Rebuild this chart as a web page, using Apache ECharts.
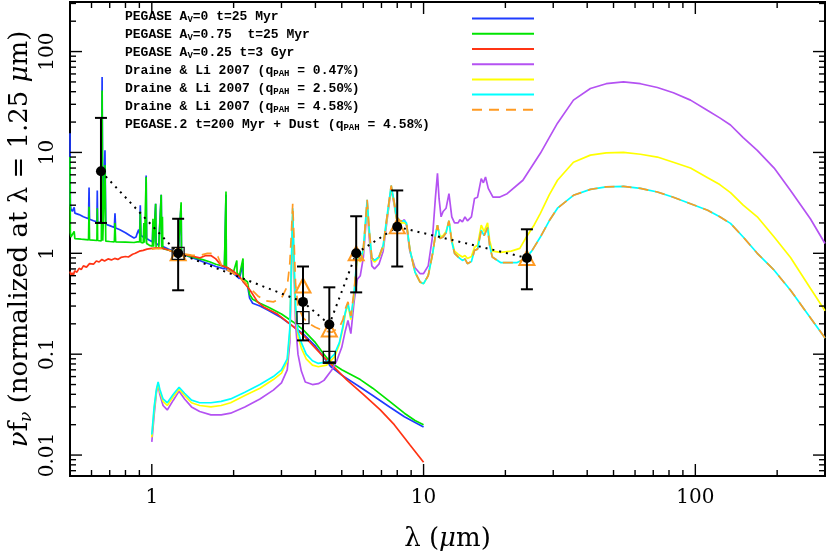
<!DOCTYPE html>
<html><head><meta charset="utf-8">
<script src="https://cdn.jsdelivr.net/npm/echarts@6/dist/echarts.min.js"></script>
<style>html,body{margin:0;padding:0;background:#fff}#c{width:830px;height:558px}</style>
</head><body><div id="c"></div>
<script>
// ---------------- data (wavelength in micron, nu f_nu normalized) ----------------
const pegAv0 = [[0.500,15.5],[0.5015,3.1],[0.504,2.75],[0.51,2.6],[0.515,2.55],[0.518,2.85],[0.521,2.5],[0.54,2.42],[0.56,2.3],[0.585,2.2],[0.5876,4.5],[0.590,2.18],[0.61,2.1],[0.628,2.05],[0.630,4.2],[0.632,2.04],[0.652,2.0],[0.6563,56],[0.660,1.98],[0.668,1.96],[0.6725,10.5],[0.677,1.94],[0.70,1.88],[0.728,1.8],[0.732,2.5],[0.736,1.78],[0.76,1.72],[0.80,1.6],[0.83,1.5],[0.86,1.42],[0.875,1.45],[0.885,1.6],[0.895,1.72],[0.902,1.55],[0.907,3.0],[0.912,1.5],[0.93,1.45],[0.95,1.42],[0.9532,5.9],[0.957,1.4],[0.98,1.35],[1.005,1.3],[1.01,2.0],[1.015,1.28],[1.03,1.26],[1.033,3.1],[1.037,1.25],[1.06,1.2],[1.083,3.8],[1.088,1.18],[1.1,1.16],[1.15,1.1],[1.2,1.05],[1.25,1.0],[1.282,3.0],[1.286,0.98],[1.35,0.94],[1.45,0.88],[1.55,0.82],[1.64,0.78],[1.72,0.74],[1.85,0.7],[1.875,3.8],[1.88,0.69],[2.0,0.63],[2.1,0.56],[2.166,0.8],[2.17,0.52],[2.25,0.48],[2.29,0.36],[2.35,0.32],[2.5,0.3],[2.7,0.27],[3.0,0.23],[3.3,0.19],[3.6,0.16],[4.0,0.12],[4.27,0.095],[4.54,0.076],[5.0,0.062],[5.85,0.047],[6.5,0.039],[7.5,0.030],[8.5,0.024],[10.0,0.019]];
const pegAv075 = [[0.500,9.0],[0.5015,1.6],[0.504,1.45],[0.51,1.4],[0.518,1.65],[0.521,1.4],[0.55,1.38],[0.585,1.36],[0.5876,2.9],[0.590,1.36],[0.628,1.34],[0.630,2.8],[0.632,1.34],[0.652,1.33],[0.6563,41],[0.660,1.33],[0.668,1.32],[0.6725,7.5],[0.677,1.32],[0.70,1.31],[0.728,1.3],[0.732,2.0],[0.736,1.3],[0.80,1.29],[0.86,1.28],[0.885,1.3],[0.895,1.35],[0.902,1.3],[0.907,2.6],[0.912,1.28],[0.93,1.27],[0.935,2.0],[0.94,1.27],[0.95,1.26],[0.9532,5.7],[0.957,1.25],[0.98,1.2],[1.005,1.18],[1.01,2.2],[1.015,1.16],[1.03,1.15],[1.033,3.1],[1.037,1.14],[1.06,1.12],[1.083,3.8],[1.088,1.12],[1.094,2.3],[1.098,1.11],[1.15,1.08],[1.2,1.04],[1.25,1.0],[1.282,3.2],[1.286,0.99],[1.35,0.95],[1.45,0.9],[1.55,0.86],[1.64,0.82],[1.72,0.78],[1.85,0.74],[1.875,4.1],[1.88,0.73],[2.0,0.66],[2.055,0.85],[2.06,0.64],[2.1,0.6],[2.166,0.89],[2.17,0.56],[2.25,0.52],[2.29,0.39],[2.35,0.35],[2.5,0.32],[2.7,0.29],[3.0,0.25],[3.3,0.21],[3.6,0.175],[4.0,0.13],[4.27,0.102],[4.54,0.083],[5.0,0.07],[5.85,0.056],[6.5,0.046],[7.5,0.034],[8.5,0.026],[9.3,0.022],[10.0,0.02]];
const pegOld = [[0.500,0.66],[0.505,0.6],[0.51,0.64],[0.515,0.61],[0.52,0.67],[0.53,0.65],[0.54,0.71],[0.55,0.69],[0.56,0.75],[0.575,0.73],[0.59,0.79],[0.6,0.81],[0.61,0.78],[0.625,0.84],[0.64,0.82],[0.655,0.87],[0.67,0.84],[0.69,0.88],[0.71,0.86],[0.73,0.89],[0.75,0.87],[0.77,0.91],[0.8,0.93],[0.82,0.92],[0.85,0.98],[0.87,1.0],[0.9,1.05],[0.93,1.07],[0.96,1.1],[1.0,1.12],[1.05,1.13],[1.1,1.12],[1.15,1.08],[1.2,1.03],[1.25,1.0],[1.3,0.98],[1.4,0.94],[1.5,0.9],[1.58,0.95],[1.65,0.95],[1.72,0.88],[1.8,0.76],[1.9,0.72],[2.0,0.66],[2.1,0.59],[2.2,0.5],[2.3,0.43],[2.45,0.33],[2.6,0.29],[2.9,0.25],[3.3,0.19],[3.6,0.155],[4.27,0.095],[4.6,0.078],[5.24,0.055],[6.0,0.04],[6.93,0.028],[7.8,0.02],[8.93,0.0125],[10.0,0.0085]];
const draine047 = [[1.0,0.0135],[1.02,0.025],[1.04,0.042],[1.055,0.05],[1.07,0.04],[1.1,0.031],[1.14,0.028],[1.2,0.035],[1.26,0.043],[1.32,0.036],[1.4,0.03],[1.5,0.027],[1.65,0.025],[1.8,0.025],[1.95,0.026],[2.2,0.03],[2.5,0.036],[2.8,0.044],[3.0,0.052],[3.15,0.07],[3.22,0.13],[3.27,0.8],[3.3,2.3],[3.33,0.8],[3.38,0.2],[3.45,0.1],[3.55,0.068],[3.67,0.053],[3.9,0.05],[4.1,0.051],[4.3,0.055],[4.6,0.07],[4.8,0.087],[5.0,0.117],[5.15,0.17],[5.27,0.216],[5.4,0.16],[5.55,0.33],[5.7,0.55],[5.85,0.6],[6.0,0.9],[6.1,1.6],[6.2,3.0],[6.3,1.5],[6.45,0.75],[6.6,0.7],[6.85,0.78],[7.1,1.05],[7.35,2.2],[7.6,4.4],[7.8,3.0],[7.95,2.2],[8.2,2.0],[8.5,2.15],[8.65,1.9],[8.9,1.05],[9.3,0.72],[9.7,0.63],[10.0,0.63],[10.4,0.75],[10.8,1.5],[11.05,3.5],[11.25,6.2],[11.4,3.5],[11.6,2.3],[11.8,2.6],[12.1,2.8],[12.4,3.9],[12.7,2.3],[13.0,2.0],[13.4,2.0],[13.6,2.15],[13.9,2.05],[14.2,2.3],[14.5,2.1],[15.0,2.3],[15.4,3.5],[15.8,3.6],[16.3,5.5],[16.6,5.0],[16.9,5.7],[17.3,4.4],[18.0,3.6],[19.0,3.6],[20.3,3.9],[23.2,5.3],[26.9,9.8],[29,14],[31.1,19.5],[35.6,33],[41.1,43],[47,48],[54.4,50],[62.8,48],[72.5,44],[83,39],[96,33],[111,26],[123,22],[134.7,18.7],[150,14],[169,10.5],[195,7.0],[224,4.2],[265,2.2],[300,1.25]];
const draine250 = [[1.0,0.015],[1.02,0.028],[1.04,0.043],[1.055,0.051],[1.07,0.043],[1.1,0.034],[1.14,0.031],[1.2,0.038],[1.26,0.045],[1.32,0.039],[1.4,0.033],[1.5,0.031],[1.65,0.03],[1.8,0.031],[1.95,0.033],[2.2,0.039],[2.5,0.046],[2.8,0.056],[3.0,0.065],[3.15,0.085],[3.22,0.16],[3.27,0.9],[3.3,2.6],[3.33,0.9],[3.38,0.27],[3.45,0.15],[3.55,0.115],[3.7,0.09],[3.9,0.078],[4.1,0.075],[4.4,0.078],[4.7,0.094],[4.9,0.125],[5.05,0.18],[5.15,0.25],[5.27,0.31],[5.4,0.22],[5.55,0.38],[5.7,0.95],[5.85,0.82],[6.0,1.05],[6.1,1.8],[6.2,3.2],[6.3,1.7],[6.45,0.87],[6.6,0.82],[6.85,0.9],[7.1,1.15],[7.35,2.3],[7.6,4.5],[7.8,3.1],[7.95,2.2],[8.2,2.0],[8.5,2.0],[8.65,1.95],[8.9,1.1],[9.3,0.65],[9.7,0.52],[10.0,0.5],[10.4,0.6],[10.8,1.0],[11.05,1.5],[11.25,1.9],[11.5,1.45],[11.8,1.5],[12.1,1.65],[12.4,2.1],[12.7,1.35],[13.0,1.05],[13.4,0.98],[13.6,1.0],[13.9,0.92],[14.2,0.95],[14.5,0.89],[15.0,0.93],[15.4,1.15],[15.8,1.2],[16.3,1.9],[16.7,1.65],[17.2,2.0],[17.5,1.35],[17.9,1.05],[19.2,1.02],[21.0,1.05],[22.6,1.12],[23.7,1.4],[25.5,1.9],[26.9,2.49],[29,3.8],[31.1,5.3],[35.6,8.0],[41.1,9.4],[47,9.9],[54.4,10.0],[62.8,9.6],[72.5,9.0],[83,8.0],[96,7.0],[111,5.6],[123,4.8],[134.7,4.0],[150,3.0],[169,2.3],[195,1.45],[224,0.91],[265,0.45],[300,0.27]];
const draine458 = [[1.0,0.016],[1.02,0.03],[1.04,0.045],[1.055,0.053],[1.07,0.045],[1.1,0.036],[1.14,0.033],[1.2,0.04],[1.26,0.047],[1.32,0.041],[1.4,0.035],[1.5,0.033],[1.65,0.033],[1.8,0.034],[1.95,0.036],[2.2,0.042],[2.5,0.05],[2.8,0.06],[3.0,0.07],[3.15,0.09],[3.22,0.18],[3.27,1.0],[3.3,2.8],[3.33,1.0],[3.38,0.3],[3.45,0.17],[3.55,0.13],[3.7,0.1],[3.9,0.086],[4.1,0.081],[4.4,0.084],[4.7,0.1],[4.9,0.13],[5.05,0.19],[5.15,0.26],[5.27,0.32],[5.4,0.23],[5.55,0.4],[5.7,1.0],[5.85,0.85],[6.0,1.1],[6.1,1.9],[6.2,3.4],[6.3,1.8],[6.45,0.9],[6.6,0.85],[6.85,0.92],[7.1,1.2],[7.35,2.4],[7.6,4.7],[7.8,3.2],[7.95,2.3],[8.2,2.1],[8.5,2.1],[8.65,2.0],[8.9,1.1],[9.3,0.65],[9.7,0.52],[10.0,0.5],[10.4,0.6],[10.8,1.0],[11.05,1.5],[11.25,1.9],[11.5,1.4],[11.8,1.45],[12.1,1.6],[12.4,2.1],[12.7,1.3],[13.0,1.0],[13.4,0.92],[13.6,0.95],[13.9,0.85],[14.2,0.88],[14.5,0.79],[15.0,0.83],[15.4,1.07],[15.8,1.1],[16.3,1.7],[16.7,1.5],[17.2,1.8],[17.5,1.2],[17.9,0.92],[19.2,0.81],[22.1,0.81],[23.7,0.89],[25.0,1.05],[26.9,1.45],[29,2.1],[31.1,2.8],[35.6,3.76],[41.1,4.3],[47,4.55],[54.4,4.6],[62.8,4.4],[72.5,4.05],[83,3.6],[96,3.1],[111,2.67],[123,2.3],[134.7,1.98],[150,1.45],[169,1.0],[195,0.68],[224,0.43],[265,0.23],[300,0.145]];
const pegDustNIR = [[1.0,1.1],[1.05,1.12],[1.1,1.11],[1.2,1.04],[1.25,1.0],[1.3,0.99],[1.4,0.96],[1.5,0.95],[1.6,1.0],[1.68,1.0],[1.75,0.93],[1.82,0.72],[1.9,0.68],[2.0,0.63],[2.1,0.58],[2.2,0.52],[2.3,0.45],[2.45,0.38],[2.6,0.34],[2.8,0.33],[3.0,0.36],[3.15,0.47],[3.22,0.8],[3.27,1.8],[3.3,3.1],[3.33,1.6],[3.38,0.5],[3.45,0.3],[3.6,0.23],[3.8,0.2],[4.0,0.185],[4.3,0.17],[4.6,0.165],[4.9,0.185],[5.05,0.22],[5.15,0.28],[5.27,0.33],[5.4,0.24],[5.55,0.42],[5.7,1.0]];
// photometry
const obsX  = [0.65, 1.25, 3.6, 4.5, 5.65, 8.0, 24.0];
const obsY  = [6.5, 1.0, 0.33, 0.197, 1.0, 1.83, 0.9];
const obsLo = [2.0, 0.43, 0.137, 0.083, 0.41, 0.74, 0.44];
const obsHi = [22, 2.2, 0.74, 0.46, 2.33, 4.2, 1.73];
const sqX = [1.25, 3.6, 4.5];
const sqY = [1.0, 0.23, 0.093];
const triX = [1.25, 3.6, 4.5, 5.65, 8.0, 24.0];
const triY = [1.0, 0.48, 0.176, 1.0, 1.85, 0.9];
// axes
const xTickVals = [1, 10, 100];
const xTickLabels = ['1', '10', '100'];
const yTickVals = [0.01, 0.1, 1, 10, 100];
const yTickLabels = ['0.01', '0.1', '1', '10', '100'];
const xMinor = [0.6,0.7,0.8,0.9,2,3,4,5,6,7,8,9,20,30,40,50,60,70,80,90,200];
const yMinor = [0.007,0.008,0.009,0.02,0.03,0.04,0.05,0.06,0.07,0.08,0.09,0.2,0.3,0.4,0.5,0.6,0.7,0.8,0.9,2,3,4,5,6,7,8,9,20,30,40,50,60,70,80,90,200,300];
const seriesNames = ['PEGASE Av=0 t=25 Myr','PEGASE Av=0.75 t=25 Myr','PEGASE Av=0.25 t=3 Gyr','Draine & Li 2007 (qPAH = 0.47%)','Draine & Li 2007 (qPAH = 2.50%)','Draine & Li 2007 (qPAH = 4.58%)','PEGASE.2 t=200 Myr + Dust (qPAH = 4.58%)'];
const legendLabels = ['PEGASE A{s|V}=0 t=25 Myr','PEGASE A{s|V}=0.75  t=25 Myr','PEGASE A{s|V}=0.25 t=3 Gyr','Draine & Li 2007 (q{s|PAH} = 0.47%)','Draine & Li 2007 (q{s|PAH} = 2.50%)','Draine & Li 2007 (q{s|PAH} = 4.58%)','PEGASE.2 t=200 Myr + Dust (q{s|PAH} = 4.58%)'];
const colors = ['#1f3cff','#00e400','#ff3414','#b452f2','#ffff00','#00ffff','#ff9a22'];

// ---------------- chart ----------------
const X_MIN = 0.5, X_MAX = 300, Y_MIN = 0.0062, Y_MAX = 310;
const pegDust = pegDustNIR.concat(draine458.filter(p => p[0] > 5.7));
const curves = [pegAv0, pegAv075, pegOld, draine047, draine250, draine458, pegDust];
const isPow = v => Math.abs(Math.log10(v) - Math.round(Math.log10(v))) < 1e-6;
const labelFor = (vals, labels) => v => { if (!isPow(v)) return ''; const i = vals.findIndex(t => Math.abs(t / v - 1) < 1e-6); return i >= 0 ? labels[i] : ''; };
const serif = 'DejaVu Serif';
const mono = 'Liberation Mono';

const series = curves.map((d, i) => ({
  type: 'line', name: seriesNames[i], data: d, showSymbol: false, symbol: 'none',
  lineStyle: { color: colors[i], width: 1.7, type: i === 6 ? [10, 7] : 'solid' },
  itemStyle: { color: colors[i] }, z: 2 + i * 0.01, silent: true
}));
series.push({ type: 'line', name: 'obsline', data: obsX.map((x, i) => [x, obsY[i]]), showSymbol: false, symbol: 'none',
  lineStyle: { color: '#000', width: 2, type: [2, 5] }, z: 3, silent: true });
series.push({ type: 'scatter', name: 'tri', data: triX.map((x, i) => [x, triY[i]]), symbol: 'triangle', symbolSize: [15, 14],
  itemStyle: { color: 'rgba(0,0,0,0)', borderColor: '#ff9a22', borderWidth: 2, opacity: 1 }, z: 4, silent: true });
series.push({ type: 'scatter', name: 'sq', data: sqX.map((x, i) => [x, sqY[i]]), symbol: 'rect', symbolSize: 12,
  itemStyle: { color: 'rgba(0,0,0,0)', borderColor: '#111', borderWidth: 1.3, opacity: 1 }, z: 5, silent: true });
series.push({ type: 'custom', name: 'err', data: obsX.map((x, i) => [x, obsLo[i], obsHi[i]]), encode: { x: 0, y: [1, 2] }, z: 6, silent: true,
  renderItem: (p, api) => {
    const x = api.value(0); const a = api.coord([x, api.value(1)]); const b = api.coord([x, api.value(2)]);
    const st = { stroke: '#000', lineWidth: 2 };
    return { type: 'group', children: [
      { type: 'line', shape: { x1: a[0], y1: a[1], x2: b[0], y2: b[1] }, style: st },
      { type: 'line', shape: { x1: a[0] - 6, y1: a[1], x2: a[0] + 6, y2: a[1] }, style: st },
      { type: 'line', shape: { x1: b[0] - 6, y1: b[1], x2: b[0] + 6, y2: b[1] }, style: st }
    ] };
  } });
series.push({ type: 'scatter', name: 'obs', data: obsX.map((x, i) => [x, obsY[i]]), symbol: 'circle', symbolSize: 10,
  itemStyle: { color: '#000', opacity: 1 }, z: 7, silent: true });
// tick marks (inside, on all four sides)
const tickStyle = { stroke: '#000', lineWidth: 1.4 };
const xTickSeries = (vals, len) => ({ type: 'custom', data: vals.map(v => [v, Y_MIN]), clip: false, silent: true, z: 10,
  renderItem: (p, api) => { const v = api.value(0); const b = api.coord([v, Y_MIN]); const t = api.coord([v, Y_MAX]);
    return { type: 'group', children: [
      { type: 'line', shape: { x1: b[0], y1: b[1], x2: b[0], y2: b[1] - len }, style: tickStyle },
      { type: 'line', shape: { x1: t[0], y1: t[1], x2: t[0], y2: t[1] + len }, style: tickStyle } ] }; } });
const yTickSeries = (vals, len) => ({ type: 'custom', data: vals.map(v => [X_MIN, v]), clip: false, silent: true, z: 10,
  renderItem: (p, api) => { const v = api.value(1); const l = api.coord([X_MIN, v]); const r = api.coord([X_MAX, v]);
    return { type: 'group', children: [
      { type: 'line', shape: { x1: l[0], y1: l[1], x2: l[0] + len, y2: l[1] }, style: tickStyle },
      { type: 'line', shape: { x1: r[0], y1: r[1], x2: r[0] - len, y2: r[1] }, style: tickStyle } ] }; } });
series.push(xTickSeries(xTickVals, 12), xTickSeries(xMinor, 6), yTickSeries(yTickVals, 12), yTickSeries(yMinor, 6));

const legendRich = { s: { fontFamily: mono, fontWeight: 'bold', fontSize: 9, lineHeight: 14, verticalAlign: 'bottom', color: '#000' } };
const option = {
  animation: false,
  backgroundColor: '#fff',
  grid: { left: 70, right: 5, top: 2, bottom: 82, containLabel: false, outerBoundsMode: 'none', show: true, borderColor: '#000', borderWidth: 2, backgroundColor: 'transparent' },
  legend: [
    { data: seriesNames, orient: 'vertical', left: 120, top: 10, padding: 0, itemWidth: 0, itemHeight: 14, itemGap: 4, selectedMode: false, icon: 'none',
      formatter: n => legendLabels[seriesNames.indexOf(n)],
      textStyle: { fontFamily: mono, fontWeight: 'bold', fontSize: 13, lineHeight: 14, color: '#000', rich: legendRich } },
    { data: seriesNames, orient: 'vertical', left: 471, top: 13, padding: 0, itemWidth: 62, itemHeight: 14, itemGap: 4, selectedMode: false,
      itemStyle: { color: 'rgba(0,0,0,0)', borderColor: 'rgba(0,0,0,0)', borderWidth: 0, opacity: 0 },
      formatter: () => '', textStyle: { fontSize: 13, lineHeight: 14 } }
  ],
  xAxis: { type: 'log', logBase: 10, min: X_MIN, max: X_MAX,
    axisLine: { show: false }, axisTick: { show: false }, splitLine: { show: false }, minorTick: { show: false },
    axisLabel: { formatter: labelFor(xTickVals, xTickLabels), fontFamily: serif, fontSize: 20, color: '#000', margin: 12, showMinLabel: false, showMaxLabel: false },
    name: 'λ ({i|μ}m)', nameLocation: 'middle', nameGap: 50, nameMoveOverlap: false,
    nameTextStyle: { fontFamily: serif, fontSize: 26, color: '#000', rich: { i: { fontFamily: serif, fontStyle: 'italic', fontSize: 26, color: '#000' } } } },
  yAxis: { type: 'log', logBase: 10, min: Y_MIN, max: Y_MAX,
    axisLine: { show: false }, axisTick: { show: false }, splitLine: { show: false }, minorTick: { show: false },
    axisLabel: { formatter: labelFor(yTickVals, yTickLabels), fontFamily: serif, fontSize: 20, color: '#000', margin: 12, rotate: 90, showMinLabel: false, showMaxLabel: false },
    name: '{i|ν}f{s|ν} (normalized at λ = 1.25 {i|μ}m)', nameLocation: 'middle', nameGap: 35, nameMoveOverlap: false,
    nameTextStyle: { fontFamily: serif, fontSize: 26, lineHeight: 30, color: '#000',
      rich: { i: { fontFamily: serif, fontStyle: 'italic', fontSize: 26, lineHeight: 30, color: '#000' },
              s: { fontFamily: serif, fontStyle: 'italic', fontSize: 17, lineHeight: 17, verticalAlign: 'bottom', color: '#000' } } } },
  series
};
const chart = echarts.init(document.getElementById('c'), null, { renderer: 'canvas' });
chart.setOption(option);
</script>
</body></html>
